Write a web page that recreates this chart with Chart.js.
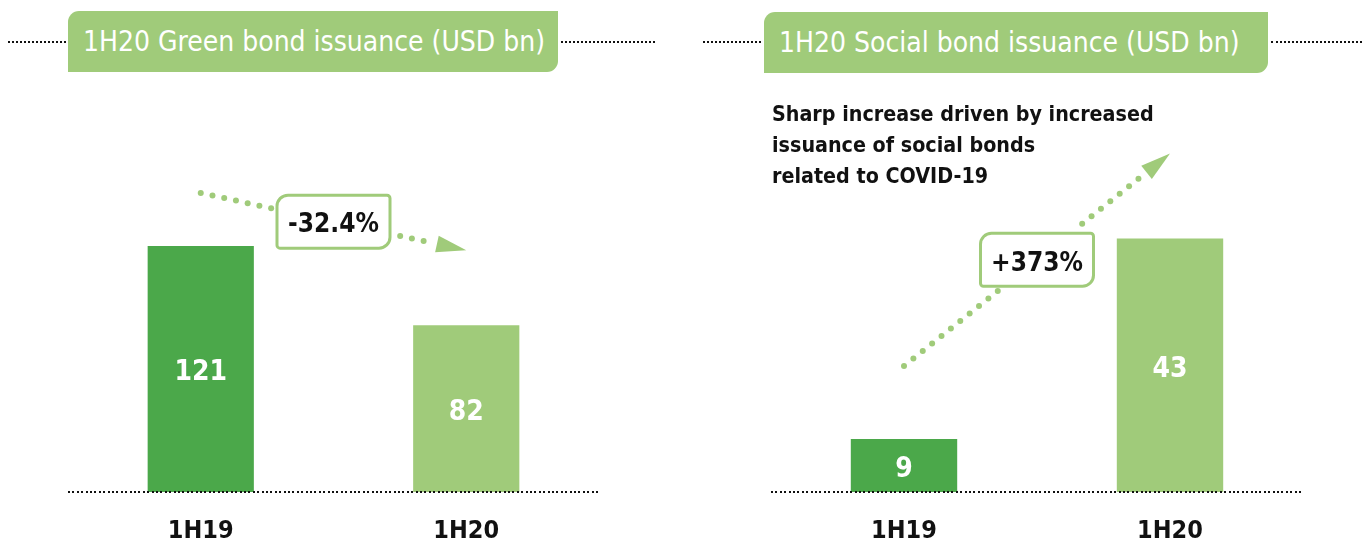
<!DOCTYPE html>
<html>
<head>
<meta charset="utf-8">
<script src="https://cdn.jsdelivr.net/npm/chart.js@4/dist/chart.umd.min.js"></script>
<style>
  html, body { margin: 0; padding: 0; background: #fff; }
  body { width: 1362px; height: 541px; position: relative; overflow: hidden;
         font-family: "DejaVu Sans Condensed", "DejaVu Sans", sans-serif; }
  .panel { position: absolute; top: 0; width: 681px; height: 541px; }
  .title { position: absolute; background: #a0cb7a; color: #fff; font-size: 28px;
           height: 61px; line-height: 62px; box-sizing: border-box; padding-left: 15px;
           border-radius: 11px 0 11px 0; white-space: nowrap; }
  .dots { position: absolute; height: 0; border-top: 2px dotted #111; }
  .note { position: absolute; font-weight: bold; font-size: 21.3px; line-height: 31px; color: #111; white-space: nowrap; }
</style>
</head>
<body>
<div class="panel" style="left:0"><canvas id="c1" width="681" height="541"></canvas></div>
<div class="panel" style="left:681px"><canvas id="c2" width="681" height="541"></canvas></div>

<div class="dots" style="left:8px; width:58px; top:41px"></div>
<div class="title" style="left:68px; top:11px; width:490px">1H20 Green bond issuance (USD bn)</div>
<div class="dots" style="left:561px; width:94px; top:41px"></div>

<div class="dots" style="left:703px; width:58px; top:41px"></div>
<div class="title" style="left:764px; top:12px; width:504px">1H20 Social bond issuance (USD bn)</div>
<div class="dots" style="left:1271px; width:91px; top:41px"></div>

<div class="note" style="left:772px; top:98px">Sharp increase driven by increased<br>issuance of social bonds<br>related to COVID-19</div>

<script>
const categories = ['1H19', '1H20'];
const greenValues = [121, 82];
const socialValues = [9, 43];
const greenChange = '-32.4%';
const socialChange = '+373%';
const barColors = ['#4ba84a', '#a0cb7a'];

const FONT = '"DejaVu Sans Condensed", "DejaVu Sans", sans-serif';
const LIGHT = '#a0cb7a';

const decorPlugin = {
  id: 'decor',
  afterDatasetsDraw(chart, args, opts) {
    const ctx = chart.ctx;
    const area = chart.chartArea;
    const meta = chart.getDatasetMeta(0);
    const data = chart.data.datasets[0].data;

    // dotted baseline
    ctx.save();
    ctx.fillStyle = '#111';
    for (let x = area.left; x <= area.right; x += 4.4) {
      ctx.fillRect(Math.round(x), area.bottom - 1, 2, 2);
    }
    ctx.restore();

    // value labels inside bars
    ctx.save();
    ctx.fillStyle = '#fff';
    ctx.font = 'bold 28px ' + FONT;
    ctx.textAlign = 'center';
    ctx.textBaseline = 'middle';
    meta.data.forEach((bar, i) => {
      ctx.fillText(String(data[i]), bar.x, (bar.y + bar.base) / 2 + 4);
    });
    ctx.restore();

    // dotted trend arrow
    const b0 = meta.data[0], b1 = meta.data[1];
    const sx = b0.x, sy = b0.y - opts.startLift;
    const tx = b1.x, ty = b1.y - opts.tipLift;
    const dx = tx - sx, dy = ty - sy;
    const len = Math.hypot(dx, dy);
    const ux = dx / len, uy = dy / len;
    const mx = (sx + tx) / 2, my = (sy + ty) / 2;
    const bw = 113, bh = 53;
    const headLen = 30, headHalf = 8.5;

    ctx.save();
    ctx.fillStyle = LIGHT;
    for (let d = 0; d <= len - headLen - 5; d += 12) {
      const px = sx + ux * d, py = sy + uy * d;
      if (Math.abs(px - mx) < bw / 2 + 3 && Math.abs(py - my) < bh / 2 + 3) continue;
      ctx.beginPath();
      ctx.arc(px, py, 3, 0, Math.PI * 2);
      ctx.fill();
    }
    // arrow head
    const bx = tx - ux * headLen, by = ty - uy * headLen;
    ctx.beginPath();
    ctx.moveTo(tx, ty);
    ctx.lineTo(bx - uy * headHalf, by + ux * headHalf);
    ctx.lineTo(bx + uy * headHalf, by - ux * headHalf);
    ctx.closePath();
    ctx.fill();

    // change box
    ctx.beginPath();
    ctx.roundRect(mx - bw / 2, my - bh / 2, bw, bh, [11, 3, 11, 3]);
    ctx.fillStyle = '#fff';
    ctx.fill();
    ctx.lineWidth = 3;
    ctx.strokeStyle = LIGHT;
    ctx.stroke();
    ctx.fillStyle = '#111';
    ctx.font = 'bold 26px ' + FONT;
    ctx.textAlign = 'center';
    ctx.textBaseline = 'middle';
    ctx.fillText(opts.label, mx, my + 4);
    ctx.restore();
  }
};

function makeChart(id, values, yMax, pad, decor) {
  return new Chart(document.getElementById(id), {
    type: 'bar',
    data: {
      labels: categories,
      datasets: [{ data: values, backgroundColor: barColors, borderWidth: 0,
                   categoryPercentage: 1, barPercentage: 0.4 }]
    },
    options: {
      responsive: false,
      animation: false,
      devicePixelRatio: 1,
      layout: { padding: pad },
      plugins: { legend: { display: false }, tooltip: { enabled: false }, decor: decor },
      scales: {
        x: {
          grid: { display: false, drawTicks: false },
          border: { display: false },
          ticks: { color: '#111', padding: 24, font: { family: FONT, size: 25, weight: 'bold' } },
          afterFit: s => { s.height = 49; }
        },
        y: { display: false, min: 0, max: yMax }
      }
    },
    plugins: [decorPlugin]
  });
}

makeChart('c1', greenValues, 200, { left: 68, right: 82, top: 85.4, bottom: 0 },
          { startLift: 53, tipLift: 75, label: greenChange });
makeChart('c2', socialValues, 70, { left: 90, right: 59, top: 79.5, bottom: 0 },
          { startLift: 73, tipLift: 85, label: socialChange });
</script>
</body>
</html>
